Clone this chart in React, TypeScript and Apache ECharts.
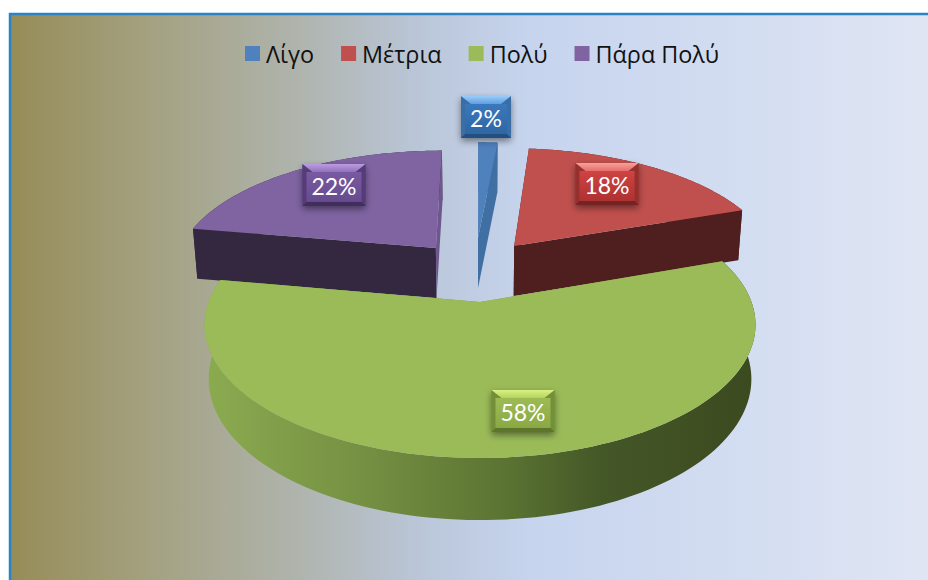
import React, { useEffect, useRef } from "react";
import * as echarts from "echarts";

// Data (the labels are the rounded shares, as in the picture)
const categories = ["Λίγο", "Μέτρια", "Πολύ", "Πάρα Πολύ"];
const shares = [1.4, 18.2, 58.2, 22.2];
const labelTexts = ["2%", "18%", "58%", "22%"];

// Style
const topColors = ["#4f81bd", "#c0504d", "#9bbb59", "#8064a2"];
const startWall = ["#3f6fa3", "#4f1e1e", "#7d9a48", "#33283f"];
const endWall = ["#3f6fa3", "#4f1e1e", "#7d9a48", "#6f568d"];
const FONT = '"Open Sans", sans-serif';

// Projection of the pie plane on the screen
const CX = 480, CY = 302, A = 271.5, B = 129.5, P = 0.17;
const explode = [[-0.008, -0.54], [0.136, -0.467], [0, 0], [-0.175, -0.449]];
const radius = [1.02, 1.02, 1, 1.01];
const project = (u: number, v: number) => {
  const d = 1 - P * v;
  return [CX + (A * u) / d, CY + (B * v) / d];
};
const lower = (pt: number[]) => {
  const drop = pt[1] <= 250 ? 50 : 50 + (pt[1] - 250) * 0.058;
  return [CX + (pt[0] - CX) * 0.985, pt[1] + drop];
};

const bevel = [
  { c: ["#3a78bc", "#2f66a4"], top: ["#9accf8", "#5f9ee2"], side: "#3a6ea6", bottom: "#234e80", center: [486, 117], w: 50 },
  { c: ["#cf4343", "#ae3232"], top: ["#f8a09c", "#e66e6a"], side: "#96302e", bottom: "#722322", center: [607, 184], w: 63 },
  { c: ["#9dbb55", "#8aa944"], top: ["#d9f284", "#b4d25c"], side: "#738f38", bottom: "#5d762c", center: [523, 411], w: 63 },
  { c: ["#785aa2", "#674a8e"], top: ["#bc9ce0", "#9070bb"], side: "#553c78", bottom: "#412d5e", center: [334, 185], w: 63 },
];

function labelShape(i: number) {
  const b = bevel[i];
  const h = 42;
  const x = b.center[0] - b.w / 2;
  const y = b.center[1] - h / 2;
  const r = x + b.w;
  const e = y + h;
  const inT = 8, inS = 4, inB = 4;
  const poly = (points: number[][], fill: any) => ({ type: "polygon", shape: { points }, style: { fill } });
  return [
    {
      type: "rect",
      shape: { x, y, width: b.w, height: h },
      style: { fill: b.side, shadowBlur: 7, shadowOffsetY: 3, shadowColor: "rgba(0,0,0,0.45)" },
    },
    poly([[x, y], [x + inS, y + inT], [x + inS, e - inB], [x, e]], b.side),
    poly([[r, y], [r - inS, y + inT], [r - inS, e - inB], [r, e]], b.side),
    poly([[x, e], [x + inS, e - inB], [r - inS, e - inB], [r, e]], b.bottom),
    poly([[x, y], [r, y], [r - inS - 6, y + inT], [x + inS + 6, y + inT]],
      new echarts.graphic.LinearGradient(0, 0, 0, 1, [{ offset: 0, color: b.top[0] }, { offset: 1, color: b.top[1] }])),
    {
      type: "polygon",
      shape: { points: [[x + inS, y + inT], [x + inS + 6, y + inT], [r - inS - 6, y + inT], [r - inS, y + inT], [r - inS, e - inB], [x + inS, e - inB]] },
      style: { fill: new echarts.graphic.LinearGradient(0, 0, 0, 1, [{ offset: 0, color: b.c[0] }, { offset: 1, color: b.c[1] }]) },
    },
    {
      type: "text",
      style: {
        text: labelTexts[i], x: b.center[0], y: b.center[1] + 1,
        fill: "#ffffff", font: `23px Lato, ${FONT}`, textAlign: "center", textVerticalAlign: "middle",
      },
    },
  ];
}

const rimFill = (i: number) =>
  i === 2
    ? new echarts.graphic.LinearGradient(0, 0, 1, 0, [
        { offset: 0, color: "#8bab50" },
        { offset: 0.3, color: "#748f42" },
        { offset: 0.55, color: "#5a7332" },
        { offset: 0.72, color: "#445727" },
        { offset: 1, color: "#3c4a1f" },
      ])
    : startWall[i];

const renderSlice = (i: number) => (_params: any, api: any) => {
  const value = api.value(0);
  const before = shares.slice(0, i).reduce((s, x) => s + x, 0);
  const a0 = (before / 100) * Math.PI * 2;
  const a1 = a0 + (value / 100) * Math.PI * 2;
  const [u0, v0] = explode[i];
  const r = radius[i];
  const apex = project(u0, v0);
  const arc: number[][] = [];
  const steps = 120;
  for (let k = 0; k <= steps; k++) {
    const a = a0 + ((a1 - a0) * k) / steps;
    arc.push(project(u0 + r * Math.sin(a), v0 - r * Math.cos(a)));
  }
  const arcLow = arc.map(lower);
  const apexLow = lower(apex);
  const first = arc[0], last = arc[steps];
  const poly = (points: number[][], fill: any) => ({ type: "polygon", shape: { points }, style: { fill } });
  return {
    type: "group",
    children: [
      poly([...arc, ...[...arcLow].reverse()], rimFill(i)),
      poly([apex, first, lower(first), apexLow], startWall[i]),
      poly([apex, last, lower(last), apexLow], endWall[i]),
      poly([apex, ...arc], topColors[i]),
      ...labelShape(i),
    ],
  };
};

export default function App() {
  const ref = useRef<HTMLDivElement>(null);
  useEffect(() => {
    const chart = echarts.init(ref.current!, null, { renderer: "svg" });
    chart.setOption({
      animation: false,
      legend: {
        data: categories,
        top: 37,
        left: 240,
        itemWidth: 15,
        itemHeight: 15,
        itemGap: 27,
        icon: "rect",
        selectedMode: false,
        textStyle: { fontFamily: FONT, fontSize: 23.4, color: "#111111", padding: [0, 0, 0, 1] },
      },
      graphic: [
        {
          type: "rect",
          z: -10,
          shape: { x: 10, y: 14, width: 930, height: 580 },
          style: {
            stroke: "#2a82c8",
            lineWidth: 2.5,
            fill: new echarts.graphic.LinearGradient(0, 0, 1, 0, [
              { offset: 0, color: "#968c58" },
              { offset: 0.14, color: "#a3a07e" },
              { offset: 0.31, color: "#afb4ad" },
              { offset: 0.44, color: "#bac6d8" },
              { offset: 0.56, color: "#c6d4ee" },
              { offset: 1, color: "#e0e6f4" },
            ]),
          },
        },
      ],
      series: [3, 1, 0, 2].map((i) => ({
        type: "custom",
        name: categories[i],
        coordinateSystem: "none",
        silent: true,
        itemStyle: { color: topColors[i] },
        renderItem: renderSlice(i),
        data: [{ name: categories[i], value: [shares[i]] }],
      })),
    });
    return () => chart.dispose();
  }, []);
  return <div ref={ref} style={{ position: "absolute", left: 0, top: 0, width: 928, height: 580 }} />;
}
